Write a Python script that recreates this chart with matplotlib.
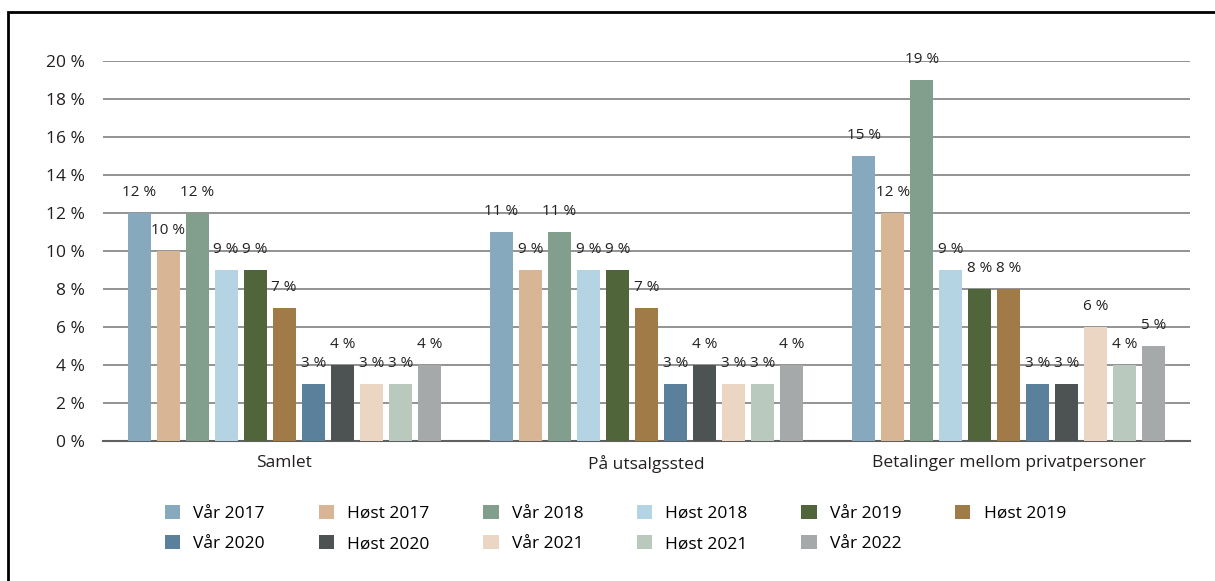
import matplotlib.pyplot as plt
import numpy as np
from matplotlib.patches import Rectangle

plt.rcParams['font.family'] = ['Open Sans', 'DejaVu Sans']

categories = ['Samlet', 'På utsalgssted', 'Betalinger mellom privatpersoner']
series = ['Vår 2017', 'Høst 2017', 'Vår 2018', 'Høst 2018', 'Vår 2019', 'Høst 2019',
          'Vår 2020', 'Høst 2020', 'Vår 2021', 'Høst 2021', 'Vår 2022']
colors = ['#86a9bd', '#d8b594', '#829e8c', '#b4d4e4', '#50653a', '#a07b47',
          '#5a809c', '#4d5253', '#ebd6c4', '#bac9be', '#a6a9aa']

# one row per series: Samlet, På utsalgssted, Betalinger mellom privatpersoner
values = [
    [12, 11, 15],
    [10, 9, 12],
    [12, 11, 19],
    [9, 9, 9],
    [9, 9, 8],
    [7, 7, 8],
    [3, 3, 3],
    [4, 4, 3],
    [3, 3, 6],
    [3, 3, 4],
    [4, 4, 5],
]

fig = plt.figure(figsize=(12.15, 5.81), dpi=100)
ax = fig.add_axes([103/1215, 1 - 441/581, 1087/1215, 380/581])

# frame around the figure
fig.patches.append(Rectangle((8/1215, -0.1), 1.2, 1 - 12/581 + 0.1,
                             transform=fig.transFigure, fill=False,
                             edgecolor='black', linewidth=2))

x = np.arange(len(categories))
pitch = 29/362
width = 23/362
n = len(series)
bars = []
for i, (name, col) in enumerate(zip(series, colors)):
    pos = x + (i - (n - 1)/2) * pitch
    b = ax.bar(pos, values[i], width=width, color=col, label=name, zorder=3)
    bars.append(b)
    for p, v in zip(pos, values[i]):
        ax.text(p, v + 0.7, f'{v} %', ha='center', va='bottom',
                fontsize=11, color='#231f20', zorder=4)

ax.set_xlim(-0.5, 2.5)
ax.set_ylim(0, 20)
ax.set_yticks(range(0, 21, 2))
ax.set_yticklabels([f'{t} %' for t in range(0, 21, 2)])
ax.yaxis.grid(True, color='#808080', linewidth=1.2, zorder=0)
ax.set_xticks(x)
ax.set_xticklabels(categories)
ax.tick_params(axis='both', length=0, labelsize=12.5, colors='#231f20')
ax.tick_params(axis='x', pad=10)
ax.tick_params(axis='y', pad=13)
for s in ['top', 'right', 'left']:
    ax.spines[s].set_visible(False)
ax.spines['bottom'].set_color('#606060')
ax.spines['bottom'].set_linewidth(1.5)

# legend is filled column by column, so reorder to read row by row
order = [0, 6, 1, 7, 2, 8, 3, 9, 4, 10, 5]
handles = [bars[i] for i in order]
labels = [series[i] for i in order]
fig.legend(handles, labels, ncol=6, loc='upper left',
           bbox_to_anchor=(165/1215, 1 - 505/581), frameon=False,
           fontsize=12.5, handlelength=0.88, handleheight=0.88,
           columnspacing=3.1, labelspacing=0.75, handletextpad=0.75,
           borderpad=0, borderaxespad=0)

fig.savefig('out.png', dpi=100)
